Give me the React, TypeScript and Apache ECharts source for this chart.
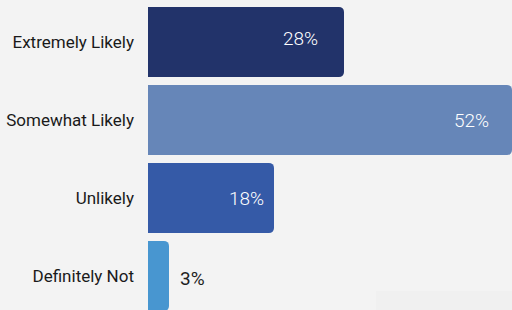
import React, { useEffect, useRef } from "react";
import * as echarts from "echarts";

const categories = ["Extremely Likely", "Somewhat Likely", "Unlikely", "Definitely Not"];
const values = [28, 52, 18, 3];

const barColors = ["#22336a", "#6686b8", "#355aa7", "#4896d0"];
const labelStyles = [
  { position: "insideRight", distance: 26, color: "#ffffff", dy: -4, weight: 300 },
  { position: "insideRight", distance: 23, color: "#ffffff", dy: 0, weight: 300 },
  { position: "insideRight", distance: 10, color: "#ffffff", dy: 0, weight: 300 },
  { position: "right", distance: 11, color: "#1f1f1f", dy: 2, weight: 400 },
];

export default function App() {
  const ref = useRef<HTMLDivElement>(null);
  useEffect(() => {
    if (!ref.current) return;
    const chart = echarts.init(ref.current, null, { renderer: "svg" });
    const font = "Roboto";
    chart.setOption({
      animation: false,
      backgroundColor: "#f3f3f3",
      grid: { left: 148, right: 0, top: 3, height: 312, containLabel: false, outerBoundsMode: "none" },
      xAxis: { type: "value", min: 0, max: 52, show: false },
      yAxis: {
        type: "category",
        data: categories,
        inverse: true,
        axisLine: { show: false },
        axisTick: { show: false },
        splitLine: { show: false },
        axisLabel: { margin: 14, color: "#1a1a1a", fontSize: 17, fontFamily: font },
      },
      graphic: [
        { type: "rect", left: 376, top: 291, shape: { width: 136, height: 19 }, style: { fill: "#f0f0f0" }, z: -1 },
      ],
      series: [
        {
          type: "bar",
          barCategoryGap: "10%",
          data: values.map((v, i) => ({
            value: v,
            itemStyle: { color: barColors[i], borderRadius: [0, 5, 5, 0] },
            label: {
              show: true,
              position: labelStyles[i].position,
              distance: labelStyles[i].distance,
              offset: [0, labelStyles[i].dy],
              color: labelStyles[i].color,
              fontSize: 19,
              fontWeight: labelStyles[i].weight,
              fontFamily: font,
              formatter: "{c}%",
            },
          })),
        },
      ],
    });
    return () => chart.dispose();
  }, []);
  return <div ref={ref} style={{ position: "fixed", left: 0, top: 0, width: 512, height: 310 }} />;
}
